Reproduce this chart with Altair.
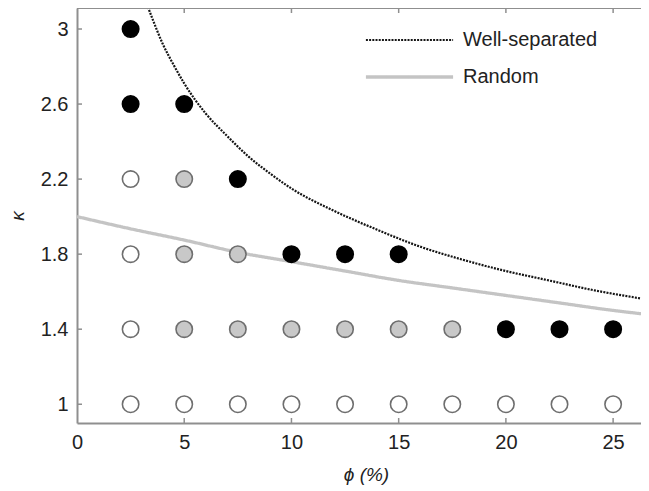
import altair as alt
import pandas as pd

# ---- data ----
pt_phi = [2.5, 5, 7.5, 10, 12.5, 15, 17.5, 20, 22.5, 25,
          2.5, 5, 7.5, 10, 12.5, 15, 17.5, 20, 22.5, 25,
          2.5, 5, 7.5, 10, 12.5, 15,
          2.5, 5, 7.5,
          2.5, 5,
          2.5]
pt_kappa = [1.0] * 10 + [1.4] * 10 + [1.8] * 6 + [2.2] * 3 + [2.6] * 2 + [3.0]
pt_state = (["open"] * 10
            + ["open"] + ["gray"] * 6 + ["black"] * 3
            + ["open", "gray", "gray", "black", "black", "black"]
            + ["open", "gray", "black"]
            + ["black", "black"]
            + ["black"])

ws_phi = [3.2, 3.5, 4, 4.5, 5, 6, 7, 8, 9, 10, 12, 14, 16, 18, 20, 22, 24, 26.5]
ws_kappa = [3.15, 3.06, 2.92, 2.81, 2.71, 2.55, 2.43, 2.32, 2.23, 2.15,
            2.03, 1.93, 1.84, 1.77, 1.71, 1.66, 1.61, 1.56]

rnd_phi = [0, 2.5, 5, 7.5, 10, 12.5, 15, 17.5, 20, 22.5, 25, 26.5]
rnd_kappa = [2.0, 1.935, 1.875, 1.81, 1.76, 1.71, 1.66, 1.62, 1.58, 1.54, 1.50, 1.48]

x_ticks = [0, 5, 10, 15, 20, 25]
y_ticks = [1, 1.4, 1.8, 2.2, 2.6, 3]

series_names = ["Well-separated", "Random"]

# ---- tables ----
pts = pd.DataFrame({"phi": pt_phi, "kappa": pt_kappa, "state": pt_state})
lines = pd.concat([
    pd.DataFrame({"phi": ws_phi, "kappa": ws_kappa, "series": series_names[0], "o": range(len(ws_phi))}),
    pd.DataFrame({"phi": rnd_phi, "kappa": rnd_kappa, "series": series_names[1], "o": range(len(rnd_phi))}),
])
xt = pd.DataFrame({"phi": x_ticks[1:]})
yt = pd.DataFrame({"kappa": y_ticks})

W, H = 564, 415
AX = "#8f8f8f"
TXT = "#222222"
xscale = alt.Scale(domain=[0, 26.3], nice=False, zero=False)
yscale = alt.Scale(domain=[0.9, 3.112], nice=False, zero=False)

xaxis = alt.Axis(values=x_ticks, title="ϕ (%)", titleFontStyle="italic",
                 titleFontWeight="normal", titleFontSize=19, titleColor=TXT,
                 labelFontSize=20, labelColor=TXT, ticks=False, grid=False,
                 domainColor=AX, domainWidth=2, labelPadding=9, titlePadding=13,
                 titleX=289, labelFlush=False, format="~g")
yaxis = alt.Axis(values=y_ticks, title="κ", titleFontStyle="italic",
                 titleFontWeight="normal", titleFontSize=19, titleColor=TXT,
                 labelFontSize=20, labelColor=TXT, ticks=False, grid=False,
                 domainColor=AX, domainWidth=2, labelPadding=9, titlePadding=13,
                 labelFlush=False, format="~g")

X = alt.X("phi:Q", scale=xscale, axis=xaxis)
Y = alt.Y("kappa:Q", scale=yscale, axis=yaxis)

line_layer = alt.Chart(lines).mark_line(clip=True, interpolate="monotone").encode(
    x=X, y=Y,
    order="o:Q",
    color=alt.Color("series:N", scale=alt.Scale(domain=series_names, range=["#151515", "#c4c4c4"]),
                    title=None,
                    legend=alt.Legend(orient="none", legendX=287, legendY=22,
                                      symbolType="stroke", symbolSize=7600,
                                      clipHeight=20, rowPadding=17, labelOffset=8,
                                      labelFontSize=20, labelColor=TXT, labelLimit=300,
                                      padding=0)),
    strokeDash=alt.StrokeDash("series:N", scale=alt.Scale(domain=series_names, range=[[2, 1.2], [1, 0]]),
                              title=None),
    strokeWidth=alt.StrokeWidth("series:N", scale=alt.Scale(domain=series_names, range=[2.2, 3.3]),
                                title=None),
)

pt_layer = alt.Chart(pts).mark_point(shape="circle", filled=False, size=270, strokeWidth=1.6, opacity=1).encode(
    x=X, y=Y,
    fill=alt.Fill("state:N", scale=alt.Scale(domain=["open", "gray", "black"],
                                             range=["#ffffff", "#c8c8c8", "#000000"]), legend=None),
    stroke=alt.Stroke("state:N", scale=alt.Scale(domain=["open", "gray", "black"],
                                                 range=["#6e6e6e", "#6e6e6e", "#000000"]), legend=None),
)

bottom_ticks = alt.Chart(xt).mark_rule(color=AX, strokeWidth=1.5).encode(
    x=X, y=alt.value(H), y2=alt.value(H - 5))
top_ticks = alt.Chart(xt).mark_rule(color=AX, strokeWidth=1.5).encode(
    x=X, y=alt.value(0), y2=alt.value(5))
left_ticks = alt.Chart(yt).mark_rule(color=AX, strokeWidth=1.5).encode(
    y=Y, x=alt.value(0), x2=alt.value(5))
top_border = alt.Chart(pd.DataFrame({"a": [0]})).mark_rule(color=AX, strokeWidth=2).encode(
    x=alt.value(0), x2=alt.value(W), y=alt.value(0))

chart = alt.layer(line_layer, bottom_ticks, top_ticks, left_ticks, top_border, pt_layer).properties(
    width=W, height=H,
    autosize=alt.AutoSizeParams(type="none"),
    padding={"left": 69, "top": 0, "right": 0, "bottom": 62},
).configure(font="Liberation Sans").configure_view(stroke=None)

chart.save("out.html", embed_options={"renderer": "svg", "actions": False})
